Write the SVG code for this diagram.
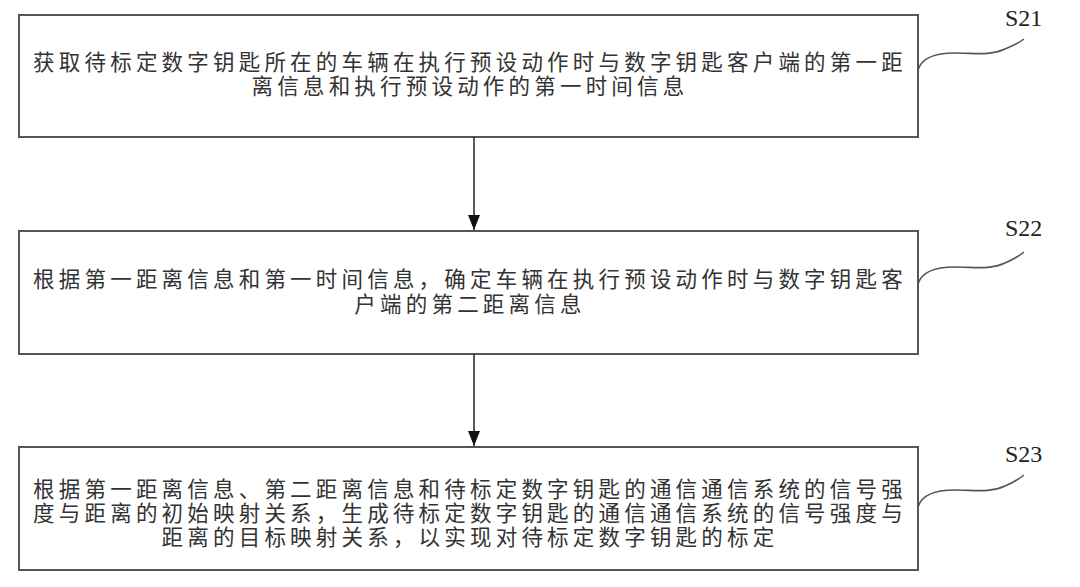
<svg xmlns="http://www.w3.org/2000/svg" width="1080" height="587" viewBox="0 0 1080 587">
<style>
.box{fill:#fff;stroke:#555;stroke-width:2}
.t{font-family:"Liberation Serif","Noto Sans CJK SC","Noto Sans CJK JP",serif;font-size:21.5px;fill:#333;letter-spacing:4.2px;text-anchor:middle}
.lbl{font-family:"Liberation Serif",serif;font-size:24px;fill:#222}
.conn{stroke:#333;stroke-width:1.6;fill:none}
.cur{stroke:#555;stroke-width:1.6;fill:none}
</style>
<defs>
<marker id="ah2" markerWidth="16" markerHeight="12" refX="15" refY="6" orient="auto" markerUnits="userSpaceOnUse" viewBox="0 0 16 12">
<path d="M0,0 L15,6 L0,12 Z" fill="#111"/>
</marker>
</defs>
<rect width="1080" height="587" fill="#fff"/>
<g id="node-s21">
<rect class="box" x="19" y="15" width="899" height="122"/>
<text class="t"><tspan x="470" y="70">获取待标定数字钥匙所在的车辆在执行预设动作时与数字钥匙客户端的第一距</tspan><tspan x="470" y="94">离信息和执行预设动作的第一时间信息</tspan></text>
<path class="cur" d="M918,70 C922,56 940,53 955,53 C975,53 990,56 1005,49 C1012,46 1019,43 1024,39"/>
<text class="lbl" x="1005" y="26">S21</text>
</g>
<g id="node-s22">
<rect class="box" x="19" y="231" width="899" height="123"/>
<text class="t"><tspan x="470" y="287">根据第一距离信息和第一时间信息，确定车辆在执行预设动作时与数字钥匙客</tspan><tspan x="470" y="312">户端的第二距离信息</tspan></text>
<path class="cur" d="M918,284 C922,270 940,267 955,267 C975,267 990,270 1005,263 C1012,260 1019,256 1024,252"/>
<text class="lbl" x="1005" y="236">S22</text>
</g>
<g id="node-s23">
<rect class="box" x="19" y="447" width="899" height="123"/>
<text class="t"><tspan x="470" y="497">根据第一距离信息、第二距离信息和待标定数字钥匙的通信通信系统的信号强</tspan><tspan x="470" y="521">度与距离的初始映射关系，生成待标定数字钥匙的通信通信系统的信号强度与</tspan><tspan x="470" y="545">距离的目标映射关系，以实现对待标定数字钥匙的标定</tspan></text>
<path class="cur" d="M918,507 C922,493 940,490 955,490 C975,490 990,493 1005,486 C1012,483 1019,479 1024,475"/>
<text class="lbl" x="1005" y="462">S23</text>
</g>
<g id="connectors">
<line class="conn" x1="474" y1="137" x2="474" y2="230" marker-end="url(#ah2)"/>
<line class="conn" x1="474" y1="354" x2="474" y2="446" marker-end="url(#ah2)"/>
</g>
</svg>
